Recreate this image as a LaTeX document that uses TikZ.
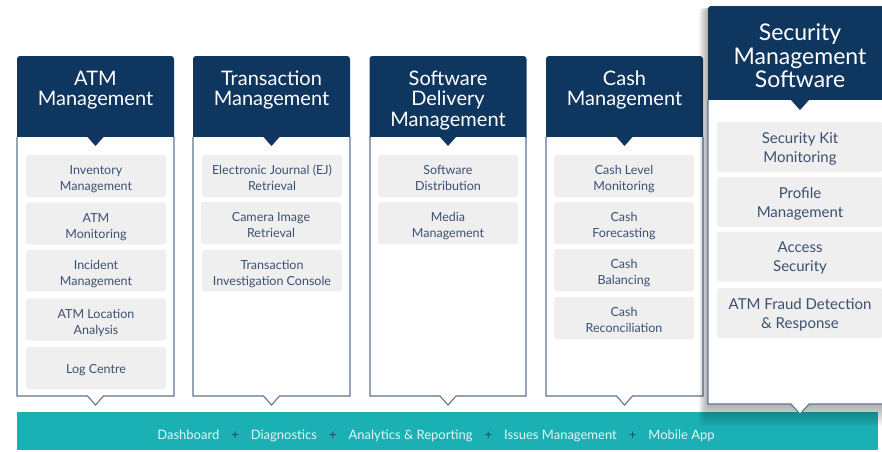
\documentclass[tikz,border=0pt]{standalone}
\usepackage{fontspec}
\setmainfont{Lato}
\usetikzlibrary{positioning}
\definecolor{navy}{HTML}{0F365F}
\definecolor{edgeblue}{HTML}{5B7593}
\definecolor{subfill}{HTML}{EFEFEF}
\definecolor{subtext}{HTML}{3B5071}
\definecolor{barteal}{HTML}{1BB0B3}
\definecolor{bartext}{HTML}{E4F6F6}
\definecolor{plusblue}{HTML}{1E4868}
\newcommand{\barsep}{\hspace{12pt}{\color{plusblue}+}\hspace{12pt}}

\begin{document}
\begin{tikzpicture}[x=1pt, y=-1pt,
    head/.style={fill=navy, rounded corners=3pt, minimum width=157pt, minimum height=85pt, inner sep=0},
    headtxt/.style={text=white, align=center, inner sep=0, anchor=north, font=\fontsize{20}{20.5}\selectfont},
    body/.style={fill=white, draw=edgeblue, line width=1.1pt, line join=miter},
    subbox/.style={fill=subfill, rounded corners=2.5pt, minimum width=140pt, minimum height=42pt, inner sep=0, align=center, text=subtext, text height=32pt, text depth=3pt, font=\fontsize{12.5}{16}\selectfont},
    bigbox/.style={subbox, minimum width=166pt, minimum height=50pt, text height=34pt, text depth=3.5pt, font=\fontsize{15}{19}\selectfont}]
    \useasboundingbox (0,0) rectangle (882,451);

    % bottom bar
    \node[fill=barteal, minimum width=861pt, minimum height=38pt, inner sep=0] (bar) at (447.5,431) {};
    \node[text=bartext, font=\fontsize{13}{15}\selectfont, inner sep=0] (menu) at (436,436)
        {Dashboard\barsep Diagnostics\barsep Analytics \& Reporting\barsep Issues Management\barsep Mobile App};

    % ATM Management
    \node[head] (h1) at (95.5,98.5) {};
    \filldraw[body] (17,137) -- (17,396) -- (87.5,396) -- (95.5,405) -- (103.5,396) -- (174,396) -- (174,137);
    \fill[navy] (87.5,137) -- (95.5,146) -- (103.5,137) -- cycle;
    \node[headtxt] (h1t) at (95.5,70.5) {ATM\\Management};
    \node[subbox] (a1) at (96,176) {Inventory\\Management};
    \node[subbox] (a2) at (96,223.5) {ATM\\Monitoring};
    \node[subbox] (a3) at (96,270.5) {Incident\\Management};
    \node[subbox] (a4) at (96,319.5) {ATM Location\\Analysis};
    \node[subbox, text height=14.5pt] (a5) at (96,368) {Log Centre};

    % Transaction Management
    \node[head] (h2) at (271.5,98.5) {};
    \filldraw[body] (193,137) -- (193,396) -- (263.5,396) -- (271.5,405) -- (279.5,396) -- (350,396) -- (350,137);
    \fill[navy] (263.5,137) -- (271.5,146) -- (279.5,137) -- cycle;
    \node[headtxt] (h2t) at (271.5,70.5) {Transaction\\Management};
    \node[subbox] (b1) at (272,176) {Electronic Journal (EJ)\\Retrieval};
    \node[subbox] (b2) at (271,223) {Camera Image\\Retrieval};
    \node[subbox] (b3) at (272,270.5) {Transaction\\Investigation Console};

    % Software Delivery Management
    \node[head] (h3) at (448,98.5) {};
    \filldraw[body] (370,137) -- (370,396) -- (440,396) -- (448,405) -- (456,396) -- (526,396) -- (526,137);
    \fill[navy] (440,137) -- (448,146) -- (456,137) -- cycle;
    \node[headtxt] (h3t) at (448,70.5) {Software\\Delivery\\Management};
    \node[subbox] (c1) at (448,176) {Software\\Distribution};
    \node[subbox] (c2) at (448,223) {Media\\Management};

    % Cash Management
    \node[head] (h4) at (624.5,98.5) {};
    \filldraw[body] (546,137) -- (546,396) -- (616.5,396) -- (624.5,405) -- (632.5,396) -- (703,396) -- (703,137);
    \fill[navy] (616.5,137) -- (624.5,146) -- (632.5,137) -- cycle;
    \node[headtxt] (h4t) at (624.5,70.5) {Cash\\Management};
    \node[subbox] (d1) at (624,176) {Cash Level\\Monitoring};
    \node[subbox] (d2) at (624,223) {Cash\\Forecasting};
    \node[subbox] (d3) at (624,270) {Cash\\Balancing};
    \node[subbox] (d4) at (624,318) {Cash\\Reconciliation};

    % Security Management Software (raised)
    \foreach \i in {1,...,10}
        \fill[black, opacity=0.035, rounded corners=4pt] (708-\i*0.9,8) rectangle (892+\i,404+\i*2.2);
    \node[head, minimum width=184pt, minimum height=98pt] (h5) at (800,55) {};
    \filldraw[body] (708,100) -- (708,404) -- (791,404) -- (800,414) -- (809,404) -- (892,404) -- (892,100);
    \fill[navy] (791,100) -- (800,110) -- (809,100) -- cycle;
    \node[headtxt, font=\fontsize{23}{23.5}\selectfont] (h5t) at (800,24) {Security\\Management\\Software};
    \node[bigbox] (e1) at (800,147) {Security Kit\\Monitoring};
    \node[bigbox] (e2) at (800,202) {Profile\\Management};
    \node[bigbox] (e3) at (800,256.5) {Access\\Security};
    \node[bigbox] (e4) at (800,313) {ATM Fraud Detection\\\& Response};
\end{tikzpicture}
\end{document}
